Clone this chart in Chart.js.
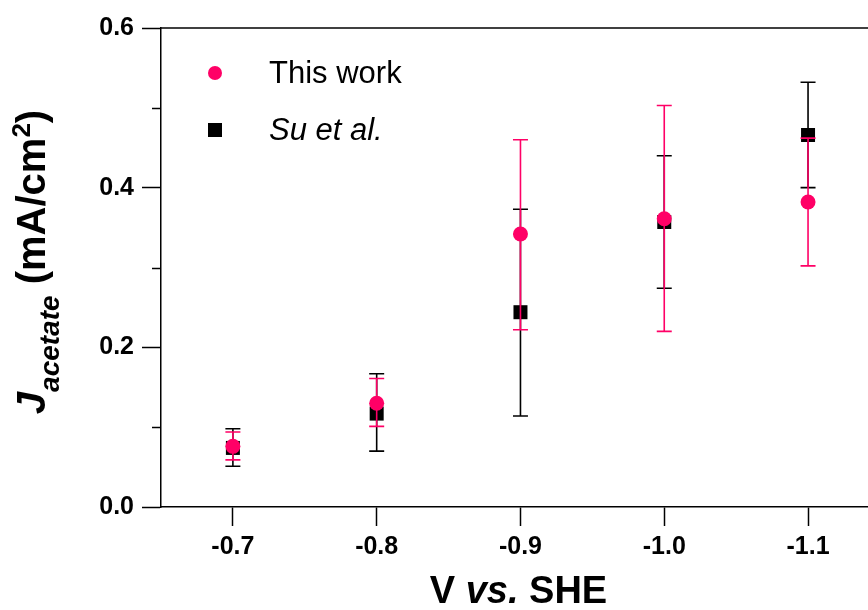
<!DOCTYPE html>
<html>
<head>
<meta charset="utf-8">
<script src="https://cdn.jsdelivr.net/npm/chart.js@4.4.1/dist/chart.umd.min.js"></script>
<style>
html,body{margin:0;padding:0;background:#fff;}
#wrap{width:868px;height:610px;}
</style>
</head>
<body>
<div id="wrap"><canvas id="c" width="868" height="610"></canvas></div>
<script>
// ---- data ----
const xValues = [-0.7, -0.8, -0.9, -1.0, -1.1];
const xTickLabels = ['-0.7', '-0.8', '-0.9', '-1.0', '-1.1'];
const yTickValues = [0.0, 0.2, 0.4, 0.6];
const yMinorTicks = [0.1, 0.3, 0.5];

const thisWork     = [0.076, 0.130, 0.342, 0.361, 0.382];
const thisWorkLow  = [0.059, 0.101, 0.222, 0.220, 0.302];
const thisWorkHigh = [0.094, 0.161, 0.460, 0.503, 0.462];

const suEtAl     = [0.074, 0.117, 0.244, 0.357, 0.466];
const suEtAlLow  = [0.051, 0.070, 0.114, 0.274, 0.400];
const suEtAlHigh = [0.098, 0.167, 0.373, 0.440, 0.532];

const PINK = '#ff0066';
const BLACK = '#000000';
const FONT = 'Arial, "Liberation Sans", Helvetica, sans-serif';

const errorBars = [
  {low: thisWorkLow, high: thisWorkHigh, color: PINK},
  {low: suEtAlLow, high: suEtAlHigh, color: BLACK}
];

const errorBarPlugin = {
  id: 'errorBars',
  beforeDatasetDraw(chart, args) {
    const eb = errorBars[args.index];
    if (!eb) return;
    const ctx = chart.ctx, xs = chart.scales.x, ys = chart.scales.y;
    ctx.save();
    ctx.strokeStyle = eb.color;
    ctx.lineWidth = 1.6;
    const cap = 7.5;
    xValues.forEach((xv, i) => {
      const px = xs.getPixelForValue(xv);
      const pl = ys.getPixelForValue(eb.low[i]);
      const ph = ys.getPixelForValue(eb.high[i]);
      ctx.beginPath();
      ctx.moveTo(px, pl); ctx.lineTo(px, ph);
      ctx.moveTo(px - cap, pl); ctx.lineTo(px + cap, pl);
      ctx.moveTo(px - cap, ph); ctx.lineTo(px + cap, ph);
      ctx.stroke();
    });
    ctx.restore();
  }
};

const decorPlugin = {
  id: 'decor',
  afterDraw(chart) {
    const ctx = chart.ctx, ca = chart.chartArea, ys = chart.scales.y;
    ctx.save();
    // top frame
    ctx.strokeStyle = '#000';
    ctx.lineWidth = 1.5;
    ctx.beginPath();
    ctx.moveTo(ca.left, ca.top); ctx.lineTo(ca.right, ca.top);
    ctx.stroke();
    // minor y ticks
    yMinorTicks.forEach(v => {
      const py = Math.round(ys.getPixelForValue(v)) + 0.5;
      ctx.beginPath();
      ctx.moveTo(ca.left - 9, py); ctx.lineTo(ca.left, py);
      ctx.stroke();
    });
    // legend
    ctx.fillStyle = PINK;
    ctx.beginPath(); ctx.arc(215, 73, 7, 0, Math.PI * 2); ctx.fill();
    ctx.fillStyle = BLACK;
    ctx.fillRect(208, 123, 14, 14);
    ctx.textBaseline = 'middle';
    ctx.textAlign = 'left';
    ctx.font = '31px ' + FONT;
    ctx.fillText('This work', 269, 74);
    ctx.font = 'italic 31px ' + FONT;
    ctx.fillText('Su et al.', 269, 131);

    // x title: "V vs. SHE"
    const xParts = [
      {t: 'V ', f: 'bold 38px ' + FONT},
      {t: 'vs.', f: 'italic bold 38px ' + FONT},
      {t: ' SHE', f: 'bold 38px ' + FONT}
    ];
    let tw = 0;
    xParts.forEach(p => { ctx.font = p.f; p.w = ctx.measureText(p.t).width; tw += p.w; });
    let x0 = 518.5 - tw / 2;
    ctx.textBaseline = 'alphabetic';
    xParts.forEach(p => { ctx.font = p.f; ctx.fillText(p.t, x0, 603); x0 += p.w; });

    // y title: J_acetate (mA/cm^2), rotated
    const yParts = [
      {t: 'J', f: 'italic bold 40px ' + FONT, dy: 0},
      {t: 'acetate', f: 'italic bold 28px ' + FONT, dy: 14},
      {t: ' (mA/cm', f: 'bold 40px ' + FONT, dy: 0},
      {t: '2', f: 'bold 26px ' + FONT, dy: -15},
      {t: ')', f: 'bold 40px ' + FONT, dy: 0}
    ];
    tw = 0;
    yParts.forEach(p => { ctx.font = p.f; p.w = ctx.measureText(p.t).width; tw += p.w; });
    ctx.translate(45, 262);
    ctx.rotate(-Math.PI / 2);
    x0 = -tw / 2;
    yParts.forEach(p => { ctx.font = p.f; ctx.fillText(p.t, x0, p.dy); x0 += p.w; });
    ctx.restore();
  }
};

new Chart(document.getElementById('c'), {
  type: 'scatter',
  data: {
    datasets: [
      {
        label: 'This work',
        data: xValues.map((x, i) => ({x: x, y: thisWork[i]})),
        backgroundColor: PINK,
        borderColor: PINK,
        pointStyle: 'circle',
        pointRadius: 7.5,
        borderWidth: 0
      },
      {
        label: 'Su et al.',
        data: xValues.map((x, i) => ({x: x, y: suEtAl[i]})),
        backgroundColor: BLACK,
        borderColor: BLACK,
        pointStyle: 'rect',
        pointRadius: 9.9,
        borderWidth: 0
      }
    ]
  },
  options: {
    responsive: false,
    animation: false,
    layout: {padding: {top: 28, right: 0, left: 0, bottom: 0}, autoPadding: false},
    plugins: {legend: {display: false}, tooltip: {enabled: false}},
    scales: {
      x: {
        type: 'linear',
        reverse: true,
        min: -1.1417,
        max: -0.65,
        afterBuildTicks(s) { s.ticks = xValues.map(v => ({value: v})); },
        afterFit(s) { s.height = 103; s.paddingLeft = 0; s.paddingRight = 0; },
        grid: {drawOnChartArea: false, tickLength: 19, tickColor: '#000', tickWidth: 1.5},
        border: {color: '#000', width: 1.5},
        ticks: {
          color: '#000',
          font: {family: FONT, size: 25, weight: 'bold'},
          padding: 6,
          maxRotation: 0,
          callback(v, i) { return xTickLabels[i]; }
        }
      },
      y: {
        min: 0,
        max: 0.6,
        afterBuildTicks(s) { s.ticks = yTickValues.map(v => ({value: v})); },
        afterFit(s) { s.width = 161; s.paddingTop = 0; s.paddingBottom = 0; },
        grid: {drawOnChartArea: false, tickLength: 19, tickColor: '#000', tickWidth: 1.5},
        border: {color: '#000', width: 1.5},
        ticks: {
          color: '#000',
          font: {family: FONT, size: 25, weight: 'bold'},
          padding: 8,
          callback(v) { return Number(v).toFixed(1); }
        }
      }
    }
  },
  plugins: [errorBarPlugin, decorPlugin]
});
</script>
</body>
</html>
